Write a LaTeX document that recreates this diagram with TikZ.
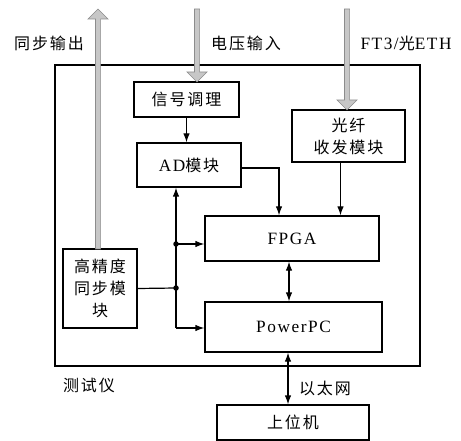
\documentclass[tikz,border=0pt]{standalone}
\usepackage{fontspec}
\setmainfont[LetterSpace=9,Scale=1.08]{Liberation Serif}
\newfontfamily\cjk[LetterSpace=12]{Noto Sans CJK SC}
\usetikzlibrary{arrows.meta,calc}
\newcommand\garrdown[3]{\filldraw[garrow] (#1-2.6,#2) -- (#1+2.6,#2) -- (#1+2.6,#3-10) -- (#1+10,#3-10) -- (#1,#3) -- (#1-10,#3-10) -- (#1-2.6,#3-10) -- cycle;}
\newcommand\garrup[3]{\filldraw[garrow] (#1-2.6,#2) -- (#1+2.6,#2) -- (#1+2.6,#3+10) -- (#1+10,#3+10) -- (#1,#3) -- (#1-10,#3+10) -- (#1-2.6,#3+10) -- cycle;}
\tikzset{
  blk/.style={draw, line width=1.2pt, inner sep=0pt, align=center, font=\fontsize{16}{22}\selectfont},
  lbl/.style={inner sep=0pt, font=\fontsize{16}{22}\selectfont},
  conn/.style={line width=1.2pt, -{Latex[length=9pt,width=6.5pt]}},
  conn2/.style={line width=1.2pt, {Latex[length=9pt,width=6.5pt]}-{Latex[length=9pt,width=6.5pt]}},
  plain/.style={line width=1.2pt},
  garrow/.style={fill=black!22, draw=black!45, line width=0.7pt},
  dot/.style={circle, fill=black, inner sep=0pt, minimum size=5.5pt}
}
\begin{document}
\begin{tikzpicture}[x=1pt,y=-1pt]
\useasboundingbox (0,0) rectangle (461,441);
% outer box
\node[draw, line width=1.2pt, minimum width=365pt, minimum height=301pt, inner sep=0pt] (outer) at (237.5,215.5) {};
% blocks
\node[blk, minimum width=105pt, minimum height=35pt] (sig) at (186.5,99.5) {\cjk 信号调理};
\node[blk, minimum width=104pt, minimum height=44pt] (ad) at (189,165) {AD{\cjk 模块}};
\node[blk, minimum width=113pt, minimum height=52pt] (fiber) at (348.5,136) {\cjk 光纤\\\cjk 收发模块};
\node[blk, minimum width=174pt, minimum height=45pt] (fpga) at (292,238.5) {FPGA};
\node[blk, minimum width=177pt, minimum height=50pt] (pp) at (293.5,327) {PowerPC};
\node[blk, minimum width=74pt, minimum height=79pt] (sync) at (100,288.5) {\cjk 高精度\\\cjk 同步模\\\cjk 块};
\node[blk, minimum width=152pt, minimum height=35pt] (host) at (293,422.5) {\cjk 上位机};
% labels
\node[lbl] (l1) at (49,43) {\cjk 同步输出};
\node[lbl] (l2) at (246,43) {\cjk 电压输入};
\node[lbl] (l3) at (406,43) {FT3/{\cjk 光}ETH};
\node[lbl] (l4) at (89,385) {\cjk 测试仪};
\node[lbl] (l5) at (325,388) {\cjk 以太网};
% gray arrows
\garrup{98}{249}{9}
\garrdown{197}{9}{82}
\garrdown{347}{9}{110}
% connectors
\draw[conn] (sig.south) -- (sig.south |- ad.north);
\draw[conn] ($(ad.east)+(0,3)$) -| ($(fpga.north)+(-13,0)$);
\coordinate (fs) at ($(fiber.south)+(-8,0)$);
\draw[conn] (fs) -- (fs |- fpga.north);
\coordinate (j1) at (176,288);
\coordinate (j2) at (176,244);
\coordinate (jb) at (176,328);
\draw[plain] (sync.east) -- (j1);
\draw[conn] (jb) -- (jb |- ad.south);
\draw[conn] (jb) -- (jb -| pp.west);
\draw[conn] (j2) -- (j2 -| fpga.west);
\node[dot] (d1) at (j1) {};
\node[dot] (d2) at (j2) {};
\draw[conn2] ($(fpga.south)+(-3,0)$) -- ($(pp.north)+(-4.5,0)$);
\draw[conn2] ($(pp.south)+(-5.5,0)$) -- ($(host.north)+(-5,0)$);
\end{tikzpicture}
\end{document}
